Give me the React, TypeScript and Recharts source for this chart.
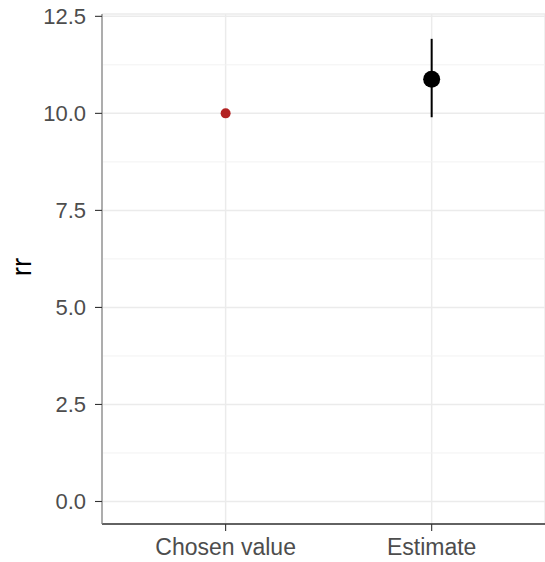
import React from 'react';
import {
  ComposedChart,
  Scatter,
  ErrorBar,
  XAxis,
  YAxis,
  CartesianGrid,
  ReferenceLine,
} from 'recharts';

// categories on the x axis
const categories = ['Chosen value', 'Estimate'];

// values
const chosenValues = [10.0];
const estimateValues = [10.88];
const estimateLower = [9.9];
const estimateUpper = [11.92];

// y axis ticks
const yTicks = [0, 2.5, 5, 7.5, 10, 12.5];
const yMinorTicks = [1.25, 3.75, 6.25, 8.75, 11.25];

const chosenData = chosenValues.map((v) => ({
  x: categories.indexOf('Chosen value') + 1,
  y: v,
}));

const estimateData = estimateValues.map((v, i) => ({
  x: categories.indexOf('Estimate') + 1,
  y: v,
  err: [v - estimateLower[i], estimateUpper[i] - v],
}));

const yTickStyle = { fontSize: 22, fill: '#4D4D4D' };
const xTickStyle = { fontSize: 23, fill: '#4D4D4D' };

const dot = (r: number, color: string) => (props: any) =>
  <circle cx={props.cx} cy={props.cy} r={r} fill={color} />;

const App: React.FC = () => (
  <div style={{ position: 'fixed', left: 0, top: 0, background: '#fff' }}>
    <ComposedChart
      width={545}
      height={562}
      margin={{ top: 14, right: 0, bottom: 0, left: 0 }}
      style={{ fontFamily: '"Liberation Sans", Arial, sans-serif' }}
    >
      <CartesianGrid stroke="#EBEBEB" strokeWidth={1.5} />
      {yMinorTicks.map((t) => (
        <ReferenceLine key={t} y={t} stroke="#F2F2F2" strokeWidth={1} />
      ))}
      <XAxis
        dataKey="x"
        type="number"
        domain={[0.4, 2.55]}
        allowDataOverflow
        ticks={[1, 2]}
        tickFormatter={(v: number) => categories[v - 1]}
        height={38}
        tick={xTickStyle}
        tickSize={7}
        tickMargin={8}
        axisLine={{ stroke: '#333333', strokeWidth: 1.5 }}
        tickLine={{ stroke: '#333333', strokeWidth: 1.1 }}
      />
      <XAxis
        xAxisId="top"
        orientation="top"
        type="number"
        domain={[0, 1]}
        height={0}
        tick={false}
        tickLine={false}
        axisLine={{ stroke: '#333333', strokeWidth: 1.2 }}
      />
      <YAxis
        dataKey="y"
        type="number"
        domain={[-0.58, 12.56]}
        allowDataOverflow
        ticks={yTicks}
        tickFormatter={(v: number) => v.toFixed(1)}
        width={102}
        tick={yTickStyle}
        tickSize={7}
        tickMargin={9}
        axisLine={{ stroke: '#808080', strokeWidth: 1.2 }}
        tickLine={{ stroke: '#333333', strokeWidth: 1.1 }}
        label={{
          content: () => (
            <text
              x={30.5}
              y={267}
              transform="rotate(-90, 30.5, 267)"
              textAnchor="middle"
              fontSize={27.5}
              fill="#000"
            >
              rr
            </text>
          ),
        }}
      />
      <Scatter
        data={chosenData}
        shape={dot(5, '#B22222')}
        isAnimationActive={false}
      />
      <Scatter
        data={estimateData}
        shape={dot(8.5, '#000000')}
        isAnimationActive={false}
      >
        <ErrorBar
          dataKey="err"
          direction="y"
          width={0}
          stroke="#000000"
          strokeWidth={2}
          isAnimationActive={false}
        />
      </Scatter>
    </ComposedChart>
  </div>
);

export default App;
